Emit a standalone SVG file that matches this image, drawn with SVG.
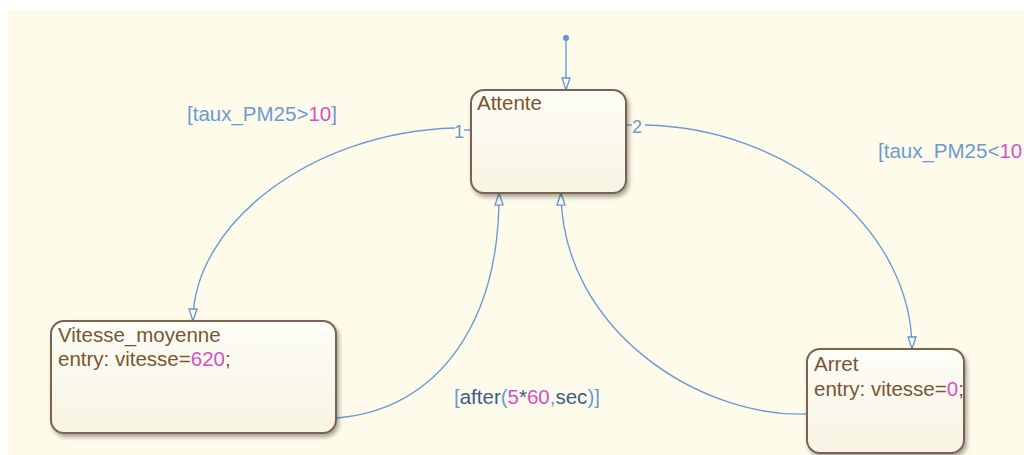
<svg xmlns="http://www.w3.org/2000/svg" width="1024" height="455" viewBox="0 0 1024 455">
<defs>
<linearGradient id="boxfill" x1="0" y1="0" x2="0" y2="1">
<stop offset="0" stop-color="#fefdf7"/>
<stop offset="1" stop-color="#f7f4e3"/>
</linearGradient>
<filter id="shadow" x="-10%" y="-10%" width="130%" height="130%">
<feDropShadow dx="2" dy="3" stdDeviation="2" flood-color="#000" flood-opacity="0.35"/>
</filter>
<marker id="arrow" markerUnits="userSpaceOnUse" markerWidth="16" markerHeight="12" viewBox="0 0 16 12" refX="13" refY="6" orient="auto">
<path d="M1,2 L13,6 L1,10 Z" fill="#fdfbeb" stroke="#5f93d2" stroke-width="1.3"/>
</marker>
<clipPath id="arretclip"><rect x="807" y="349" width="156" height="104"/></clipPath>
</defs>
<style>
.state{fill:url(#boxfill);stroke:#7b6450;stroke-width:2;filter:url(#shadow)}
.stxt{font-family:"Liberation Sans",Arial,sans-serif;font-size:20.5px;fill:#7a5431}
.conn{fill:none;stroke:#6a9bd6;stroke-width:1.4;marker-end:url(#arrow)}
.lbl{font-family:"Liberation Sans",Arial,sans-serif;font-size:20.5px;fill:#6a9ad3}
.small{font-size:18px}
.num{fill:#d650c8}
.kw{fill:#3d5c88}
</style>
<rect x="0" y="0" width="1024" height="455" fill="#ffffff"/>
<rect x="8" y="10" width="1016" height="445" fill="#fefbeb"/>

<g id="connectors">
<circle cx="566" cy="38" r="3" fill="#5f93d2"/>
<path class="conn" d="M566 38 L566 90"/>
<path class="conn" d="M455 128 C310 132 193 225 193 321"/>
<path class="conn" d="M645 125 C790 128 912 230 912 349"/>
<path class="conn" d="M336 418 C440 410 500 320 499 193"/>
<path class="conn" d="M807 414 C700 418 562 330 561 193"/>
<line x1="464" y1="130" x2="471" y2="130" stroke="#6a9bd6" stroke-width="1.4"/>
<line x1="626" y1="125" x2="632" y2="125" stroke="#6a9bd6" stroke-width="1.4"/>
<text class="lbl small" x="454" y="138">1</text>
<text class="lbl small" x="632" y="133">2</text>
<text class="lbl" x="187" y="121">[taux_PM25&gt;<tspan class="num">10</tspan>]</text>
<text class="lbl" x="878" y="158">[taux_PM25&lt;<tspan class="num">10</tspan></text>
<text class="lbl" x="454" y="404">[<tspan class="kw">after</tspan>(<tspan class="num">5</tspan><tspan class="kw">*</tspan><tspan class="num">60</tspan>,<tspan class="kw">sec</tspan>)]</text>
</g>

<g id="Attente">
<rect class="state" x="471" y="90" width="155" height="103" rx="13"/>
<text class="stxt" x="477" y="110">Attente</text>
</g>

<g id="Vitesse_moyenne">
<rect class="state" x="51" y="321" width="285" height="112" rx="13"/>
<text class="stxt" x="58" y="342">Vitesse_moyenne</text>
<text class="stxt" x="58" y="366">entry: vitesse=<tspan class="num">620</tspan>;</text>
</g>

<g id="Arret">
<rect class="state" x="807" y="349" width="157" height="104" rx="13"/>
<g clip-path="url(#arretclip)">
<text class="stxt" x="814" y="371">Arret</text>
<text class="stxt" x="814" y="396">entry: vitesse=<tspan class="num">0</tspan>;</text>
</g>
</g>
</svg>
